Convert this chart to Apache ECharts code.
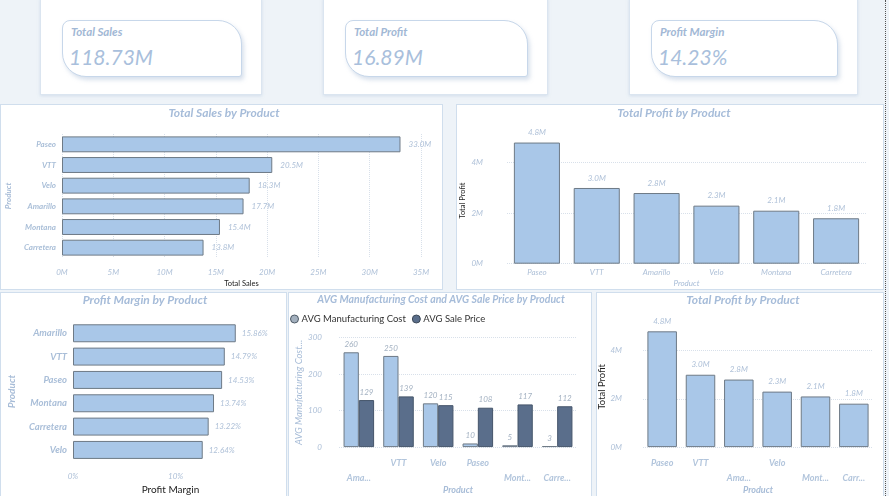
<!DOCTYPE html>
<html><head><meta charset="utf-8">
<script src="https://cdn.jsdelivr.net/npm/echarts@6/dist/echarts.min.js"></script>
<style>
html,body{margin:0;padding:0;width:889px;height:496px;overflow:hidden;background:#eef3f8;font-family:Lato,"Open Sans",sans-serif;}
.box{position:absolute;background:#fff;border:1px solid #d0deed;box-sizing:border-box;}
.outer{position:absolute;background:#fff;border:1px solid #dbe5f0;box-sizing:border-box;box-shadow:0 1px 3px rgba(160,185,215,.35);}
.card{position:absolute;box-sizing:border-box;background:#fff;border:1px solid #c7d7ea;border-radius:8px 24px 3px 24px;box-shadow:2px 3px 4px rgba(140,165,200,.35);}
.card .t{position:absolute;left:8px;top:4px;font-weight:700;font-style:italic;font-size:11.5px;color:#a2b8d5;white-space:nowrap;}
.card .v{position:absolute;left:6px;top:23px;font-style:italic;font-size:21px;color:#a9bfdc;white-space:nowrap;}
#chart{position:absolute;left:0;top:0;width:889px;height:496px;}
.dash{position:absolute;left:885px;top:0;width:0;height:496px;border-left:1px dotted #555;}
</style></head>
<body>
<div id="bg"></div>
<div id="chart"></div>
<div class="dash"></div>
<script>
// ---- data ----
const kpiLabels = ['Total Sales', 'Total Profit', 'Profit Margin'];
const kpiValues = ['118.73M', '16.89M', '14.23%'];

const salesProducts = ['Paseo', 'VTT', 'Velo', 'Amarillo', 'Montana', 'Carretera'];
const salesValues = [33.0, 20.5, 18.3, 17.7, 15.4, 13.8];

const profitProducts = ['Paseo', 'VTT', 'Amarillo', 'Velo', 'Montana', 'Carretera'];
const profitValues = [4.8, 3.0, 2.8, 2.3, 2.1, 1.8];
const profitTickLabels2 = ['Paseo', 'VTT', 'Ama...', 'Velo', 'Mont...', 'Carr...'];
const profitTickRows2 = [1, 1, 2, 1, 2, 2];

const marginProducts = ['Amarillo', 'VTT', 'Paseo', 'Montana', 'Carretera', 'Velo'];
const marginValues = [15.86, 14.79, 14.53, 13.74, 13.22, 12.64];

const avgProducts = ['Amarillo', 'VTT', 'Velo', 'Paseo', 'Montana', 'Carretera'];
const avgMfgCost = [260, 250, 120, 10, 5, 3];
const avgSalePrice = [129, 139, 115, 108, 117, 112];
const avgTickLabels = ['Ama...', 'VTT', 'Velo', 'Paseo', 'Mont...', 'Carre...'];
const avgTickRows = [2, 1, 1, 1, 2, 2];

// ---- background layout (HTML) ----
const bg = document.getElementById('bg');
const outers = [[40, 222], [323, 225], [629, 229]];
const inners = [[62, 180], [345, 183], [651, 187]];
outers.forEach((o, i) => {
  const d = document.createElement('div');
  d.className = 'outer';
  d.style.cssText = `left:${o[0]}px;top:-2px;width:${o[1]}px;height:97px;`;
  bg.appendChild(d);
  const c = document.createElement('div');
  c.className = 'card';
  c.style.cssText = `left:${inners[i][0]}px;top:20px;width:${inners[i][1]}px;height:57px;`;
  c.innerHTML = `<div class="t">${kpiLabels[i]}</div><div class="v">${kpiValues[i]}</div>`;
  bg.appendChild(c);
});
const panels = [[0, 104, 443, 186], [456, 104, 428, 186], [0, 292, 287, 210], [288, 292, 304, 210], [596, 292, 288, 210]];
panels.forEach(p => {
  const d = document.createElement('div');
  d.className = 'box';
  d.style.cssText = `left:${p[0]}px;top:${p[1]}px;width:${p[2]}px;height:${p[3]}px;`;
  bg.appendChild(d);
});

// ---- chart ----
const lblColor = '#afc1d8';
const axColor = '#a7bcd7';
const barFill = '#a9c7e8';
const barBorder = '#6e7a86';
const darkFill = '#5a6e8b';
const darkBorder = '#46566b';
const titleFont = 'italic bold 12px Lato';

function title(text, x, y, size) {
  return { type: 'text', x: x, y: y, style: { text: text, align: 'center', verticalAlign: 'middle', font: 'italic bold ' + (size || 12) + 'px Lato', fill: '#a6bcd9' } };
}
const dotted = { show: true, lineStyle: { type: 'dotted', color: '#d8e0ea', width: 1 } };
const noLine = { show: false };

const chart = echarts.init(document.getElementById('chart'), null, { renderer: 'canvas' });
chart.setOption({
  backgroundColor: 'transparent',
  animation: false,
  textStyle: { fontFamily: 'Lato' },
  graphic: [
    title('Total Sales by Product', 224, 113),
    title('Total Profit by Product', 674, 113),
    title('Profit Margin by Product', 145, 300),
    title('AVG Manufacturing Cost and AVG Sale Price by Product', 441, 300, 10.5),
    title('Total Profit by Product', 743, 300)
  ],
  legend: {
    left: 290, top: 314, padding: 0, itemGap: 6, itemWidth: 8, itemHeight: 8, icon: 'circle',
    textStyle: { fontSize: 9.5, color: '#333', padding: [0, 0, 0, -2] },
    data: [
      { name: 'AVG Manufacturing Cost', itemStyle: { color: '#a3b0be', borderColor: '#4e5a66', borderWidth: 1 } },
      { name: 'AVG Sale Price', itemStyle: { color: darkFill, borderColor: '#3e4a58', borderWidth: 1 } }
    ]
  },
  grid: [
    { left: 62, top: 134, width: 359, height: 124 },
    { left: 507, top: 137.5, width: 359, height: 126.2 },
    { left: 73, top: 321.6, width: 195, height: 140 },
    { left: 339, top: 337.7, width: 238, height: 110 },
    { left: 643, top: 326.5, width: 230, height: 121.2 }
  ],
  xAxis: [
    { gridIndex: 0, type: 'value', min: 0, max: 35, interval: 5,
      axisLabel: { formatter: '{value}M', fontSize: 8, fontStyle: 'italic', color: lblColor, margin: 10 },
      axisLine: noLine, axisTick: noLine, splitLine: dotted,
      name: 'Total Sales', nameLocation: 'middle', nameGap: 22, nameTextStyle: { color: '#222', fontSize: 7.5 } },
    { gridIndex: 1, type: 'category', data: profitProducts,
      axisLabel: { fontSize: 8, fontStyle: 'italic', color: lblColor, margin: 5 },
      axisLine: noLine, axisTick: noLine,
      name: 'Product', nameLocation: 'middle', nameGap: 16, nameTextStyle: { color: axColor, fontSize: 8, fontStyle: 'italic' } },
    { gridIndex: 2, type: 'value', min: 0, max: 19, interval: 10,
      axisLabel: { formatter: '{value}%', fontSize: 8, fontStyle: 'italic', color: lblColor, margin: 11, showMaxLabel: false },
      axisLine: noLine, axisTick: noLine, splitLine: noLine,
      name: 'Profit Margin', nameLocation: 'middle', nameGap: 23, nameTextStyle: { color: '#222', fontSize: 10 } },
    { gridIndex: 3, type: 'category', data: avgProducts,
      axisLabel: { fontSize: 9, fontStyle: 'italic', fontWeight: 'bold', color: '#b2c5dc', margin: 8, lineHeight: 15, interval: 0,
        formatter: (v, i) => (avgTickRows[i] === 2 ? '\n' : '') + avgTickLabels[i] },
      axisLine: noLine, axisTick: noLine,
      name: 'Product', nameLocation: 'middle', nameGap: 37, nameTextStyle: { color: axColor, fontSize: 9, fontStyle: 'italic', fontWeight: 'bold' } },
    { gridIndex: 4, type: 'category', data: profitProducts,
      axisLabel: { fontSize: 9, fontStyle: 'italic', fontWeight: 'bold', color: '#b2c5dc', margin: 8, lineHeight: 15, interval: 0,
        formatter: (v, i) => (profitTickRows2[i] === 2 ? '\n' : '') + profitTickLabels2[i] },
      axisLine: noLine, axisTick: noLine,
      name: 'Product', nameLocation: 'middle', nameGap: 37, nameTextStyle: { color: axColor, fontSize: 9, fontStyle: 'italic', fontWeight: 'bold' } }
  ],
  yAxis: [
    { gridIndex: 0, type: 'category', inverse: true, data: salesProducts,
      axisLabel: { fontSize: 8, fontStyle: 'italic', fontWeight: 'bold', color: '#aabfd8', margin: 6 },
      axisLine: noLine, axisTick: noLine,
      name: 'Product', nameLocation: 'middle', nameRotate: 90, nameGap: 50, nameTextStyle: { color: axColor, fontSize: 8, fontStyle: 'italic', fontWeight: 'bold' } },
    { gridIndex: 1, type: 'value', min: 0, max: 5, interval: 2,
      axisLabel: { formatter: '{value}M', fontSize: 8, fontStyle: 'italic', color: lblColor, margin: 24, showMaxLabel: false },
      axisLine: noLine, axisTick: noLine, splitLine: Object.assign({ showMaxLine: false }, dotted),
      name: 'Total Profit', nameLocation: 'middle', nameRotate: 90, nameGap: 40, nameTextStyle: { color: '#222', fontSize: 7.5 } },
    { gridIndex: 2, type: 'category', inverse: true, data: marginProducts,
      axisLabel: { fontSize: 9.5, fontStyle: 'italic', fontWeight: 'bold', color: '#a9bed8', margin: 6 },
      axisLine: noLine, axisTick: noLine,
      name: 'Product', nameLocation: 'middle', nameRotate: 90, nameGap: 56, nameTextStyle: { color: axColor, fontSize: 10, fontStyle: 'italic', fontWeight: 'bold' } },
    { gridIndex: 3, type: 'value', min: 0, max: 300, interval: 100,
      axisLabel: { fontSize: 8, fontStyle: 'italic', color: lblColor, margin: 17 },
      axisLine: noLine, axisTick: noLine, splitLine: dotted,
      name: 'AVG Manufacturing Cost...', nameLocation: 'middle', nameRotate: 90, nameGap: 35, nameTextStyle: { color: axColor, fontSize: 9.5, fontStyle: 'italic' } },
    { gridIndex: 4, type: 'value', min: 0, max: 5, interval: 2,
      axisLabel: { formatter: '{value}M', fontSize: 8, fontStyle: 'italic', color: lblColor, margin: 21, showMaxLabel: false },
      axisLine: noLine, axisTick: noLine, splitLine: Object.assign({ showMaxLine: false }, dotted),
      name: 'Total Profit', nameLocation: 'middle', nameRotate: 90, nameGap: 33, nameTextStyle: { color: '#222', fontSize: 9.5 } }
  ],
  series: [
    { type: 'bar', xAxisIndex: 0, yAxisIndex: 0, data: salesValues, barCategoryGap: '23%',
      itemStyle: { color: barFill, borderColor: barBorder, borderWidth: 1 },
      label: { show: true, position: 'right', distance: 8, fontSize: 8, fontStyle: 'italic', color: lblColor, formatter: p => p.value.toFixed(1) + 'M' } },
    { type: 'bar', xAxisIndex: 1, yAxisIndex: 1, data: profitValues, barCategoryGap: '23%',
      itemStyle: { color: barFill, borderColor: barBorder, borderWidth: 1 },
      label: { show: true, position: 'top', distance: 6, fontSize: 8, fontStyle: 'italic', color: lblColor, formatter: p => p.value.toFixed(1) + 'M' } },
    { type: 'bar', xAxisIndex: 2, yAxisIndex: 2, data: marginValues, barCategoryGap: '23%',
      itemStyle: { color: barFill, borderColor: barBorder, borderWidth: 1 },
      label: { show: true, position: 'right', distance: 6, fontSize: 8, fontStyle: 'italic', color: lblColor, formatter: p => p.value.toFixed(2) + '%' } },
    { type: 'bar', name: 'AVG Manufacturing Cost', xAxisIndex: 3, yAxisIndex: 3, data: avgMfgCost, barCategoryGap: '23%', barGap: '0%',
      itemStyle: { color: barFill, borderColor: barBorder, borderWidth: 1 },
      label: { show: true, position: 'top', distance: 4, fontSize: 8, fontStyle: 'italic', color: '#a4b2c2' } },
    { type: 'bar', name: 'AVG Sale Price', xAxisIndex: 3, yAxisIndex: 3, data: avgSalePrice, barCategoryGap: '23%', barGap: '0%',
      itemStyle: { color: darkFill, borderColor: darkBorder, borderWidth: 1 },
      label: { show: true, position: 'top', distance: 4, fontSize: 8, fontStyle: 'italic', color: '#a4b2c2' } },
    { type: 'bar', xAxisIndex: 4, yAxisIndex: 4, data: profitValues, barCategoryGap: '23%',
      itemStyle: { color: barFill, borderColor: barBorder, borderWidth: 1 },
      label: { show: true, position: 'top', distance: 6, fontSize: 8, fontStyle: 'italic', color: lblColor, formatter: p => p.value.toFixed(1) + 'M' } }
  ]
});
</script>
</body></html>
